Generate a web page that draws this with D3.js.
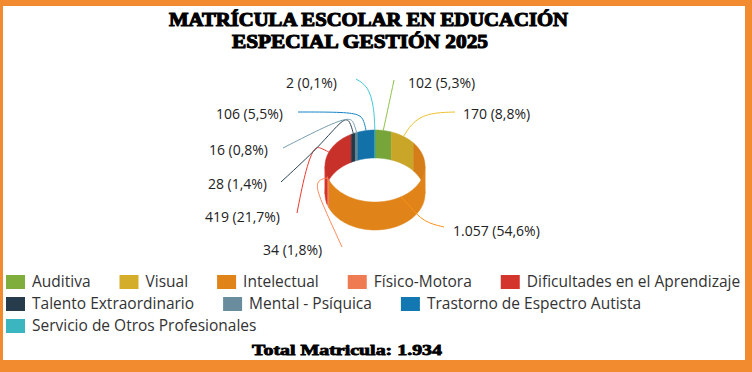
<!DOCTYPE html>
<html>
<head>
<meta charset="utf-8">
<script src="https://cdn.jsdelivr.net/npm/d3@7"></script>
<style>
  body { margin: 0; background: #fff; }
  svg { display: block; }
</style>
</head>
<body>
<svg id="chart" width="752" height="372"></svg>
<script>
// datos
var categorias = ["Auditiva", "Visual", "Intelectual", "Físico-Motora", "Dificultades en el Aprendizaje",
                  "Talento Extraordinario", "Mental - Psíquica", "Trastorno de Espectro Autista",
                  "Servicio de Otros Profesionales"];
var valores = [102, 170, 1057, 34, 419, 28, 16, 106, 2];
var porcentajes = [5.3, 8.8, 54.6, 1.8, 21.7, 1.4, 0.8, 5.5, 0.1];
var colores = ["#7fae3d", "#d4ae2a", "#e0841a", "#ef7b52", "#d3342b", "#263c4c", "#6a8d9d", "#1377b2", "#3bb5bf"];
var titulo = ["MATRÍCULA ESCOLAR EN EDUCACIÓN", "ESPECIAL GESTIÓN 2025"];
var totalTexto = "Total Matricula: 1.934";

// posiciones de etiquetas y guias (solo layout)
var etiquetaPos = [
    {x: 408, y: 88, anchor: "start", via: [[394, 80], [389, 104]]},
    {x: 463, y: 119, anchor: "start", via: [[455, 112], [426, 113], [411, 124]]},
    {x: 453, y: 236, anchor: "start", via: [[444, 227], [423, 222], [410, 206]]},
    {x: 263, y: 255, anchor: "start", via: [[342, 247], [326, 212], [315, 186], [320, 179]]},
    {x: 280, y: 222, anchor: "end", via: [[297, 213], [305, 172], [314, 146], [321, 148]]},
    {x: 267, y: 189, anchor: "end", via: [[281, 182], [320, 146], [344, 117], [350, 121]]},
    {x: 268, y: 155, anchor: "end", via: [[283, 148], [328, 125], [350, 117], [354, 123]]},
    {x: 283, y: 119, anchor: "end", via: [[298, 112], [340, 112], [360, 114], [364, 121]]},
    {x: 337, y: 88, anchor: "end", via: [[356, 79], [368, 86], [374, 106]]}
];
var filasLeyenda = [[0, 1, 2, 3, 4], [5, 6, 7], [8]];

var svg = d3.select("#chart");
var W = 752, H = 372;

var loc = d3.formatLocale({decimal: ",", thousands: ".", grouping: [3], currency: ["", ""]});
var fmtNum = loc.format(",d");
var fmtPct = loc.format(".1f");

svg.append("rect").attr("width", W).attr("height", H).attr("fill", "#fff");

// titulo
var tt = svg.append("g")
    .attr("font-family", "'Liberation Serif', serif")
    .attr("font-weight", "bold")
    .attr("fill", "#000")
    .attr("stroke", "#000")
    .attr("stroke-width", 1.1);
tt.append("text").attr("x", 169).attr("y", 26).attr("font-size", 19)
    .attr("textLength", 399).attr("lengthAdjust", "spacingAndGlyphs").text(titulo[0]);
tt.append("text").attr("x", 232).attr("y", 48).attr("font-size", 19)
    .attr("textLength", 256).attr("lengthAdjust", "spacingAndGlyphs").text(titulo[1]);

// anillo 3D
var cx = 375, cyTop = 166, rx = 50, ry = 36, alto = 28;
var pie = d3.pie().sort(null).value(function(d) { return d; });
var arcos = pie(valores);

var px = function(a) { return cx + rx * Math.sin(a); };
var py = function(a, base) { return base - ry * Math.cos(a); };

var pared = function(a0, a1) {
    var n = Math.max(2, Math.ceil((a1 - a0) / 0.02));
    var arriba = d3.range(n + 1).map(function(i) { return a0 + (a1 - a0) * i / n; });
    var pts = arriba.map(function(a) { return [px(a), py(a, cyTop)]; });
    var abajo = arriba.slice().reverse().map(function(a) { return [px(a), py(a, cyTop + alto)]; });
    return d3.line()(pts.concat(abajo)) + "Z";
};

var tramos = function(a0, a1, desde, hasta) {
    var s = Math.max(a0, desde), e = Math.min(a1, hasta);
    return e > s ? [s, e] : null;
};

var atras = [], frente = [];
arcos.forEach(function(d, i) {
    var t;
    t = tramos(d.startAngle, d.endAngle, 0, Math.PI / 2); if (t) atras.push({i: i, a: t});
    t = tramos(d.startAngle, d.endAngle, 3 * Math.PI / 2, 2 * Math.PI); if (t) atras.push({i: i, a: t});
    t = tramos(d.startAngle, d.endAngle, Math.PI / 2, 3 * Math.PI / 2); if (t) frente.push({i: i, a: t});
});

var anillo = svg.append("g");
anillo.selectAll("path.atras")
    .data(atras)
    .enter()
    .append("path")
    .attr("class", "atras")
    .attr("d", function(d) { return pared(d.a[0], d.a[1]); })
    .attr("fill", function(d) { return d3.color(colores[d.i]).darker(0.15); })
    .attr("stroke", function(d) { return d3.color(colores[d.i]).darker(0.15); })
    .attr("stroke-width", 0.5);
anillo.selectAll("path.frente")
    .data(frente)
    .enter()
    .append("path")
    .attr("class", "frente")
    .attr("d", function(d) { return pared(d.a[0], d.a[1]); })
    .attr("fill", function(d) { return colores[d.i]; })
    .attr("stroke", function(d) { return colores[d.i]; })
    .attr("stroke-width", 0.5);

// guias y etiquetas
var guia = d3.line().curve(d3.curveBasis);
var etq = svg.append("g");
arcos.forEach(function(d, i) {
    var m = (d.startAngle + d.endAngle) / 2;
    var p = etiquetaPos[i];
    var pts = p.via.concat([[px(m), py(m, cyTop)]]);
    etq.append("path")
        .attr("d", guia(pts))
        .attr("fill", "none")
        .attr("stroke", d3.color(colores[i]).brighter(0.3))
        .attr("stroke-width", 1);
    etq.append("text")
        .attr("x", p.x)
        .attr("y", p.y)
        .attr("text-anchor", p.anchor)
        .attr("font-family", "'Open Sans', sans-serif")
        .attr("font-size", 14)
        .attr("fill", "#222")
        .text(fmtNum(valores[i]) + " (" + fmtPct(porcentajes[i]) + "%)");
});

// leyenda
var ley = svg.append("g")
    .attr("font-family", "'Open Sans', sans-serif")
    .attr("font-size", 15.5)
    .attr("fill", "#333");
filasLeyenda.forEach(function(fila, r) {
    var x = 6;
    var y = 275 + r * 22;
    fila.forEach(function(i) {
        ley.append("rect").attr("x", x).attr("y", y).attr("width", 19).attr("height", 14)
            .attr("fill", colores[i]);
        var t = ley.append("text").attr("x", x + 26).attr("y", y + 12).text(categorias[i]);
        x = x + 26 + t.node().getComputedTextLength() + 29;
    });
});

// total
svg.append("text")
    .attr("x", 252).attr("y", 355)
    .attr("font-family", "'Liberation Serif', serif")
    .attr("font-weight", "bold")
    .attr("font-size", 15)
    .attr("stroke", "#000").attr("stroke-width", 0.8)
    .attr("textLength", 190).attr("lengthAdjust", "spacingAndGlyphs")
    .text(totalTexto);

// borde naranja
var borde = "#f28a30";
svg.append("rect").attr("x", 0).attr("y", 0).attr("width", W).attr("height", 6).attr("fill", borde);
svg.append("rect").attr("x", 0).attr("y", 0).attr("width", 3).attr("height", H).attr("fill", borde);
svg.append("rect").attr("x", 745).attr("y", 0).attr("width", 7).attr("height", H).attr("fill", borde);
svg.append("rect").attr("x", 0).attr("y", 360).attr("width", W).attr("height", 12).attr("fill", borde);
</script>
</body>
</html>
